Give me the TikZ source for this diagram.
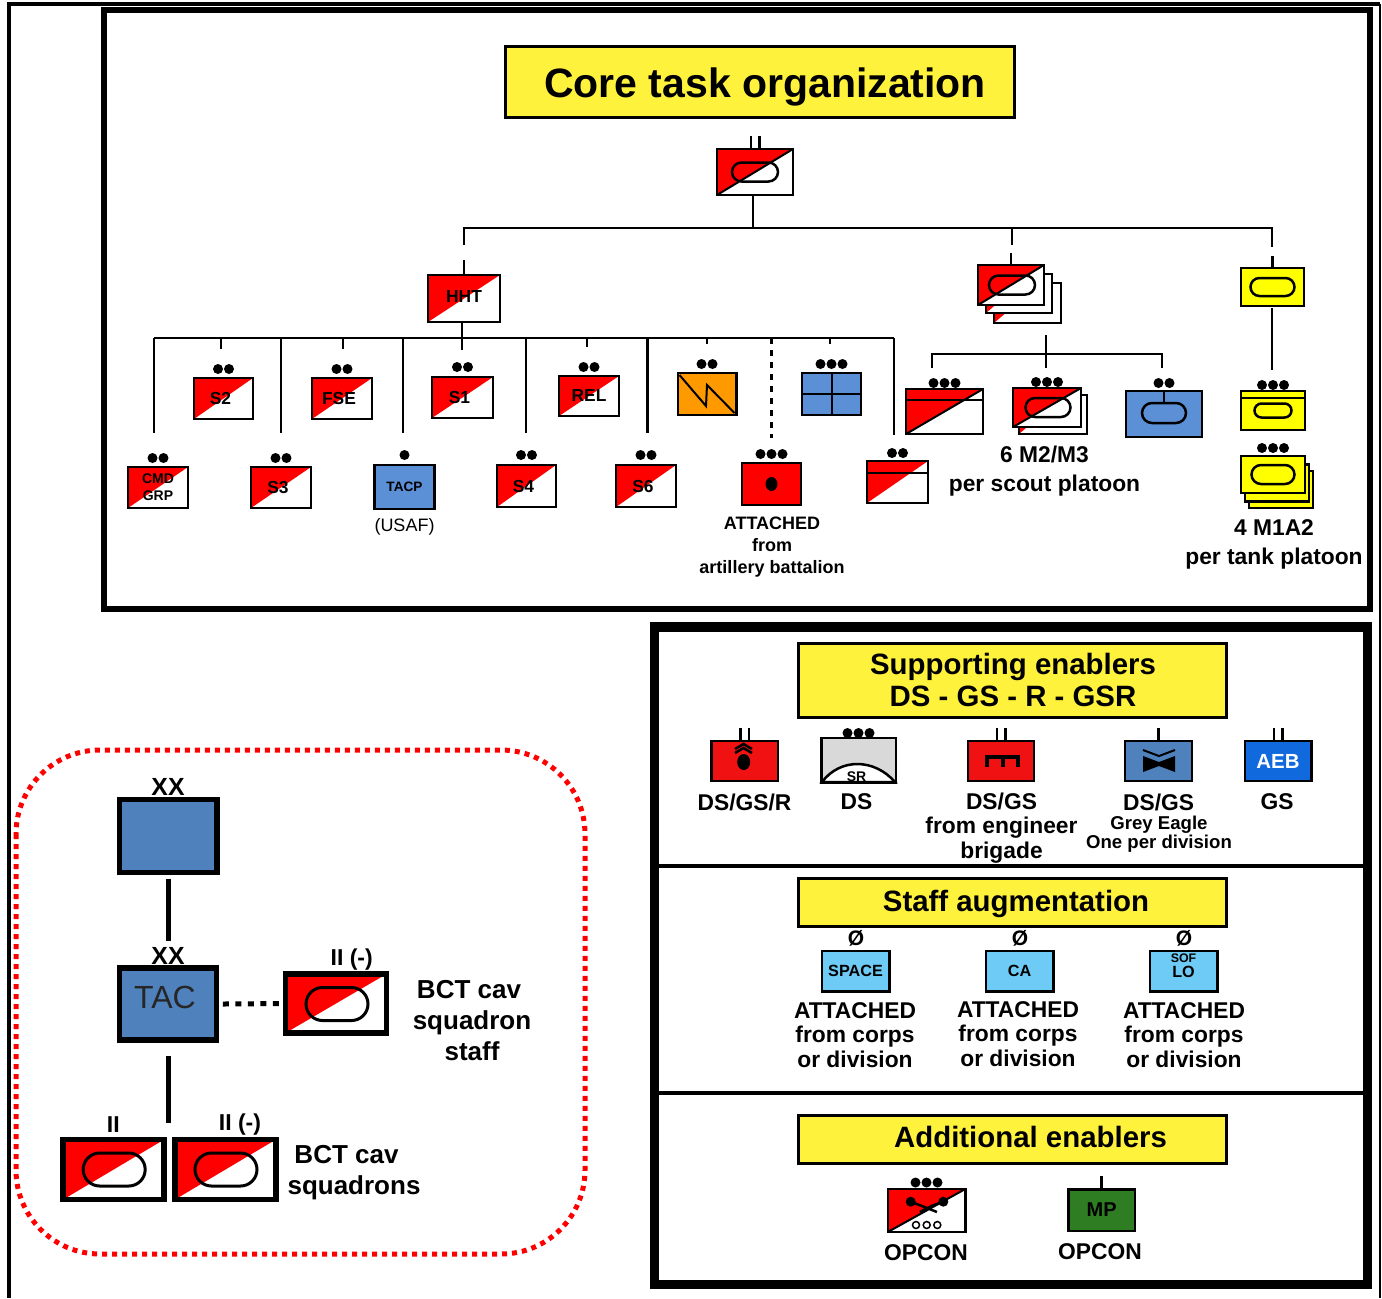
\documentclass[tikz,border=0pt]{standalone}
\usepackage{fontspec}
\setmainfont{Liberation Sans}
\usetikzlibrary{calc}
\definecolor{unitred}{HTML}{FF0000}
\definecolor{enabred}{HTML}{F01212}
\definecolor{unitblue}{HTML}{5B8FD6}
\definecolor{steel}{HTML}{4F81BD}
\definecolor{aebblue}{HTML}{1169DE}
\definecolor{unityellow}{HTML}{FFFF00}
\definecolor{boxyellow}{HTML}{FFF23C}
\definecolor{sigorange}{HTML}{FF9900}
\definecolor{staffblue}{HTML}{6ECBF5}
\definecolor{mpgreen}{HTML}{2F7D22}
\newcommand{\lft}[1]{#1\kern3pt}
\newcommand{\base}[2]{\raisebox{#1}[0pt][0pt]{#2}}
\tikzset{
	unit/.style 2 args={draw,inner sep=0pt,outer sep=0pt,line width=1.25pt,align=center,
		minimum width=#1*.5pt,minimum height=#2*.5pt,
		font=\fontsize{8.7}{8.5}\selectfont\bfseries,
		prefix after command={\pgfextra{\let\fixname\tikzlastnode}}},
	bigunit/.style 2 args={unit={#1}{#2},line width=2.75pt},
	half/.style={fill=white,path picture={\fill[unitred] (path picture bounding box.north west)
		-- (path picture bounding box.north east) -- (path picture bounding box.south west) -- cycle;}},
	half line/.style={fill=white,path picture={\fill[unitred] (path picture bounding box.north west)
		-- (path picture bounding box.north east) -- (path picture bounding box.south west) -- cycle;
		\draw[line width=1pt] (path picture bounding box.north east) -- (path picture bounding box.south west);}},
	half back/.style={fill=white,path picture={\fill[unitred] (path picture bounding box.south west)
		-- ([shift={(0,-12)}]path picture bounding box.south west) -- ([shift={(14,-12)}]path picture bounding box.south west) -- cycle;}},
	ech/.style 2 args={append after command={\pgfextra{\foreach \i in {1,...,#1} {
		\fill ($(\fixname.north)+({(\i-(#1+1)/2)*11},-#2)$) circle (5);}}}},
	ticks/.style={append after command={\pgfextra{\foreach \i in {1,...,#1} {
		\draw[line width=1.25pt] ($(\fixname.north)+({(\i-(#1+1)/2)*8.5},0)$) -- +(0,-13);}}}},
	wire/.style={line width=1.25pt},
	heavy/.style={line width=2.5pt},
	panel/.style={draw,line width=2.75pt},
	headbox/.style 2 args={draw,line width=1.5pt,fill=boxyellow,inner sep=0pt,align=center,
		minimum width=#1*.5pt,minimum height=#2*.5pt,font=\fontsize{14.7}{16}\selectfont\bfseries},
	caption/.style={inner sep=0pt,align=center,font=\fontsize{11.4}{12.2}\selectfont\bfseries},
	capsmall/.style={inner sep=0pt,align=center,font=\fontsize{9.3}{9.75}\selectfont\bfseries},
	capbig/.style={inner sep=0pt,align=center,font=\fontsize{13}{15.5}\selectfont\bfseries},
	capsub/.style={inner sep=0pt,align=center,font=\fontsize{11.4}{14.5}\selectfont\bfseries},
	ecap/.style={inner sep=0pt,font=\fontsize{12.4}{14}\selectfont\bfseries},
	small tag/.style={font=\fontsize{8.1}{7}\selectfont\bfseries},
}
\begin{document}
\begin{tikzpicture}[x=.5pt,y=-.5pt]
   \useasboundingbox (0,0) rectangle (1382,1298);
   \draw[line width=1.75pt] (9,1298) |- (1380,4);
   \draw[line width=1.15pt] (1380,4) -- (1380,1298);
   \draw[panel] (104,10) rectangle (1370,609);
   \draw[line width=4.75pt] (654.5,627) rectangle (1367.5,1284.5);
   \draw[line width=1.75pt] (658,866) -- (1363,866);
   \draw[line width=1.75pt] (658,1093) -- (1363,1093);
   \draw[red,line width=2.5pt,dash pattern=on 2.5pt off 2.5pt,rounded corners=42pt] (16,750) rectangle (585,1254);

   % core task organization
   \node[headbox={509}{71},font=\fontsize{20.5}{24}\selectfont\bfseries] (title) at (759.5,81.5) {\kern5.5pt\base{-7.75pt}{Core task organization}};
   \node[unit={76}{46},half line,ticks=2] (sqdn) at (755,172) {};
   \node[unit={72}{47},half] (hht) at (464,298.5) {\base{-1.75pt}{HHT}};

   \node[unit={60}{41},half,ech={2}{9},font=\fontsize{7}{8.5}\selectfont\bfseries] (cmd) at (158,487.5) {CMD\\GRP};
   \node[unit={60}{41},half,ech={2}{9}] (sthree) at (281,487.5) {\lft{S3}};
   \node[unit={60}{44},fill=unitblue,ech={1}{10},font=\fontsize{6.8}{8}\selectfont\bfseries] (tacp) at (404.5,487) {TACP};
   \node[unit={59}{42},half,ech={2}{10}] (sfour) at (526.5,486) {\lft{S4}};
   \node[unit={60}{42},half,ech={2}{10}] (ssix) at (646,486) {\lft{S6}};
   \node[unit={59}{42},fill=unitred,ech={3}{9}] (fires) at (771.5,484) {};
   \node[unit={61}{42},half,ech={2}{8}] (fwd) at (897.5,482) {};
   \node[unit={59}{41},half,ech={2}{9}] (stwo) at (223.5,398.5) {\lft{S2}};
   \node[unit={60}{41},half,ech={2}{9}] (fse) at (342,398.5) {\lft{FSE}};
   \node[unit={61}{41},half,ech={2}{10}] (sone) at (462.5,397.5) {\lft{S1}};
   \node[unit={60}{40},half,ech={2}{9}] (rel) at (589,396) {REL};
   \node[unit={58.5}{42},fill=sigorange,ech={2}{9}] (sigco) at (707,394) {};
   \node[unit={59}{42},fill=unitblue,ech={3}{9}] (infco) at (831.5,394) {};

   \node[unit={67}{40},half back] (troopc) at (1027.5,303) {};
   \node[unit={66}{39},half back] (troopb) at (1019,293.5) {};
   \node[unit={66}{40},half line] (troop) at (1011,285) {};
   \node[unit={63}{38},fill=unityellow] (tank) at (1272.5,287) {};

   \node[unit={77}{45},half line,ech={3}{6}] (scout) at (944.5,411.5) {};
   \node[unit={68}{39},half back] (pltb) at (1053,414.5) {};
   \node[unit={68}{39},half line,ech={3}{6}] (plt) at (1047,407.5) {};
   \node[unit={76}{46},fill=unitblue,ech={2}{8}] (mortar) at (1164,414) {};
   \node[unit={64}{39},fill=unityellow,ech={3}{6}] (tankplt) at (1273,410.5) {};
   \node[unit={64}{37},fill=unityellow] (tankc) at (1281,489.5) {};
   \node[unit={64}{37},fill=unityellow] (tankb) at (1277,483) {};
   \node[unit={64}{37},fill=unityellow,ech={3}{8}] (tanksec) at (1273,474.5) {};

   \draw[line width=1pt] (scout.west |- 0,400) -- (scout.east |- 0,400);
   \draw[line width=1pt] (fwd.west |- 0,473) -- (fwd.east |- 0,473);
   \draw[line width=1pt] (tankplt.west |- 0,398) -- (tankplt.east |- 0,398);
   \draw[line width=1pt] (mortar.north) -- (1164,403);
   \fill (fires.center) ellipse (6 and 7);
   \draw[line width=1pt] (679.5,375) -- (706,406) -- (707,385) -- (734.5,413);
   \draw[line width=1pt] (infco.north) -- (infco.south) (infco.west) -- (infco.east);

   \coordinate (top bus) at (753,228);
   \coordinate (hht drop) at (464,245);
   \coordinate (troop drop) at (1012,245);
   \coordinate (tank drop) at (1272,247);
   \draw[wire] (sqdn.south -| top bus) -- (top bus);
   \draw[wire] (hht drop) |- (top bus) -| (tank drop);
   \draw[wire] (troop drop) -- (troop drop |- top bus);
   \draw[wire] (hht.north) -- ++(0,-15) coordinate (hht stub);
   \draw[wire] (troop.north) -- ++(0,-12) coordinate (troop stub);
   \draw[wire] (tank.north) -- ++(0,-12) coordinate (tank stub);

   \coordinate (staff bus) at (462,338);
   \coordinate (staff stem) at (462,350);
   \draw[wire] (staff stem |- hht.south) -- (staff stem);
   \draw[wire] ([shift={(-4,0)}]cmd.north |- staff bus) -- ([shift={(-3.5,0)}]fwd.north |- staff bus);
   \foreach \n/\dx/\up in {cmd/-4/34,sthree/0/34,tacp/-1.5/32,sfour/-.5/32,ssix/1.5/32,fwd/-3.5/26,
         stwo/-2.5/29,fse/1/29,rel/-2/29,sigco/0/29,infco/-1.5/29}
      \draw[wire] ([shift={(\dx,0)}]\n.north |- staff bus) -- ([shift={(\dx,-\up)}]\n.north);
   \draw[wire,dashed] (fires.north |- staff bus) -- ([shift={(0,-25)}]fires.north);

   \coordinate (plt stem) at (1046,335);
   \coordinate (plt bus) at (1046,354);
   \coordinate (scout drop) at (932,368);
   \coordinate (plt drop) at (1046,368);
   \coordinate (mortar drop) at (1162,368);
   \draw[wire] (plt stem) -- (plt drop);
   \draw[wire] (scout drop) |- (plt bus) -| (mortar drop);
   \coordinate (tankplt drop) at (1272,370);
   \draw[wire] ([yshift=-1pt]tank.south -| tankplt drop) -- (tankplt drop);

   \node[inner sep=0pt,font=\fontsize{9}{11}\selectfont] (usaf) at (404.5,527) {(USAF)};
   \node[capsmall,font=\fontsize{9}{11}\selectfont\bfseries] (artyfrom) at (772,547) {ATTACHED\\from\\artillery battalion};
   \node[capsub] (scoutcap) at (1044.5,471) {6 M2/M3\\per scout platoon};
   \node[capsub] (tankcap) at (1274,544) {4 M1A2\\per tank platoon};

   % supporting enablers
   \node[headbox={428}{74}] (support) at (1012,680) {\kern1pt Supporting enablers\\\kern1pt DS - GS - R - GSR};
   \node[unit={66.5}{40},fill=enabred,ticks=2] (radar) at (744.5,761) {};
   \node[unit={74.5}{45},fill=black!15,ech={3}{5}] (srcav) at (858.5,760.5) {};
   \node[unit={66}{40},fill=enabred,ticks=2] (engr) at (1001,761) {};
   \node[unit={67}{40},fill=steel,ticks=1] (eagle) at (1158.5,761) {};
   \node[unit={66.5}{40},fill=aebblue,ticks=2,text=white,font=\fontsize{10.2}{12}\selectfont\bfseries] (aeb) at (1278,761) {AEB};
   \draw[line width=1.25pt] (735,749) -- (743.5,744) -- (752,749) (735,753) -- (743.5,748) -- (752,753);
   \fill (743.7,762) ellipse (6.5 and 8);
   \draw[line width=1.25pt,fill=white] (822,782) .. controls (840,758) and (874,758) .. (895,782) -- cycle;
   \node[inner sep=0pt,font=\fontsize{7}{8}\selectfont\bfseries] (srtag) at (856.5,777) {SR};
   \draw[line width=2pt] (987,767) -- (987,757) -- (1018,757) -- (1018,767) (1002.5,757) -- (1002.5,767);
   \fill (1143,756) -- (1159,762) -- (1175,756) -- (1175,772) -- (1159,766) -- (1143,772) -- cycle;
   \draw[line width=1pt] (1143,750) -- (1159,756) -- (1175,750);
   \node[caption] (radarcap) at (744.5,802) {DS/GS/R};
   \node[caption] (srcap) at (856.5,802) {DS};
   \node[caption] (engrcap) at (1001.5,828) {DS/GS\\from engineer\\brigade};
   \node[caption] (eaglecap) at (1158.7,802) {DS/GS};
   \node[capsmall] (eaglesub) at (1159,834) {Grey Eagle\\One per division};
   \node[caption] (aebcap) at (1277,802) {GS};

   % staff augmentation
   \node[headbox={428}{48}] (staff) at (1012,902) {\kern4pt\base{-4.5pt}{Staff augmentation}};
   \foreach \n/\x/\y/\t in {space/855.5/856/SPACE,civil/1019.5/1020/CA,sof/1183.7/1184/{}} {
      \node[unit={67.5}{40.5},fill=staffblue,small tag] (\n) at (\x,971) {\t};
      \node[inner sep=0pt,font=\fontsize{10.5}{12}\selectfont\bfseries] (\n zero) at (\y,938) {Ø};
   }
   \node[small tag,inner sep=0pt,font=\fontsize{6.2}{7}\selectfont\bfseries] (softag) at (1183.5,958) {SOF};
   \node[small tag,inner sep=0pt] (lotag) at (1183.5,971.5) {LO};
   \node[caption] (spacecap) at (855,1035) {ATTACHED\\from corps\\or division};
   \node[caption] (civilcap) at (1018,1034) {ATTACHED\\from corps\\or division};
   \node[caption] (sofcap) at (1184,1035) {ATTACHED\\from corps\\or division};

   % additional enablers
   \node[headbox={428}{48}] (extra) at (1012,1139) {\kern18.5pt\base{-4pt}{Additional enablers}};
   \node[unit={77.5}{43},half line,ech={3}{6.5}] (mpbde) at (926.5,1210.5) {};
   \node[unit={66.5}{41.5},fill=mpgreen,ticks=1,font=\fontsize{10}{12}\selectfont\bfseries] (mpco) at (1101.7,1210) {MP};
   \fill (910.7,1201.7) circle (5) (943.3,1201.7) circle (5);
   \draw[line width=1.25pt] (910.7,1201.7) .. controls (922,1206) .. (937,1212);
   \draw[line width=1.25pt] (943.3,1201.7) .. controls (931,1206) .. (920,1212);
   \foreach \x in {916,926.7,937.3} \draw[line width=.75pt] (\x,1225) circle (3.5);
   \node[caption] (mpbdecap) at (926,1253) {OPCON};
   \node[caption] (mpcocap) at (1100,1252) {OPCON};

   % division TAC
   \node[bigunit={97.5}{73},fill=steel] (main) at (168.3,836) {};
   \node[bigunit={97}{72},fill=steel,text=black!85,font=\fontsize{16}{18}\selectfont] (tac) at (168,1004) {\lft{\base{-2pt}{TAC}}};
   \node[bigunit={101}{59},half] (cavstaff) at (336,1003.5) {};
   \node[bigunit={101}{60},half] (cavone) at (113.7,1169.5) {};
   \node[bigunit={101}{60},half] (cavtwo) at (225.5,1169.5) {};
   \coordinate (tac stub) at (168,941);
   \coordinate (cav stub) at (168.7,1123);
   \draw[heavy] ([yshift=-3pt]main.south -| tac stub) -- (tac stub);
   \draw[heavy] ([yshift=-8pt]tac.south -| cav stub) -- (cav stub);
   \draw[heavy,dash pattern=on 3pt off 3.25pt] ([xshift=3.2pt]tac.east) -- ([xshift=-2.75pt]cavstaff.west);
   \node[ecap] (mainxx) at (168,787) {XX};
   \node[ecap] (tacxx) at (168,956) {XX};
   \node[ecap,font=\fontsize{11.5}{14}\selectfont\bfseries] (staffii) at (351.7,960) {II (-)};
   \node[ecap,font=\fontsize{11.5}{14}\selectfont\bfseries] (oneii) at (113.3,1125) {II};
   \node[ecap,font=\fontsize{11.5}{14}\selectfont\bfseries] (twoii) at (240,1125) {II (-)};
   \node[capbig] (staffcap) at (472,1021) {BCT cav\kern3pt\\squadron\\staff};
   \node[capbig] (cavcap) at (354,1172.5) {\kern-7.5pt BCT cav\\squadrons};

   \foreach \n/\dx/\dy/\w/\h/\lw in {sqdn/0/0/23/9.5/1.25,troop/1/0/23/9.5/1.25,tank/0/0/22/9/1.25,plt/1/0/22.5/9.5/1.25,
         mortar/0/-1/22/10/1.25,tankplt/0/0/18.5/7/1.25,tanksec/0/0/21.5/9.5/1.25,
         cavstaff/1/.5/31/16.5/1.5,cavone/.5/0/31/16.5/1.5,cavtwo/.5/0/31/16.5/1.5}
      \draw[line width=\lw pt,rounded corners=\h*.5pt]
         ($(\n.center)+(\dx-\w,\dy-\h)$) rectangle ($(\n.center)+(\dx+\w,\dy+\h)$);
\end{tikzpicture}
\end{document}
